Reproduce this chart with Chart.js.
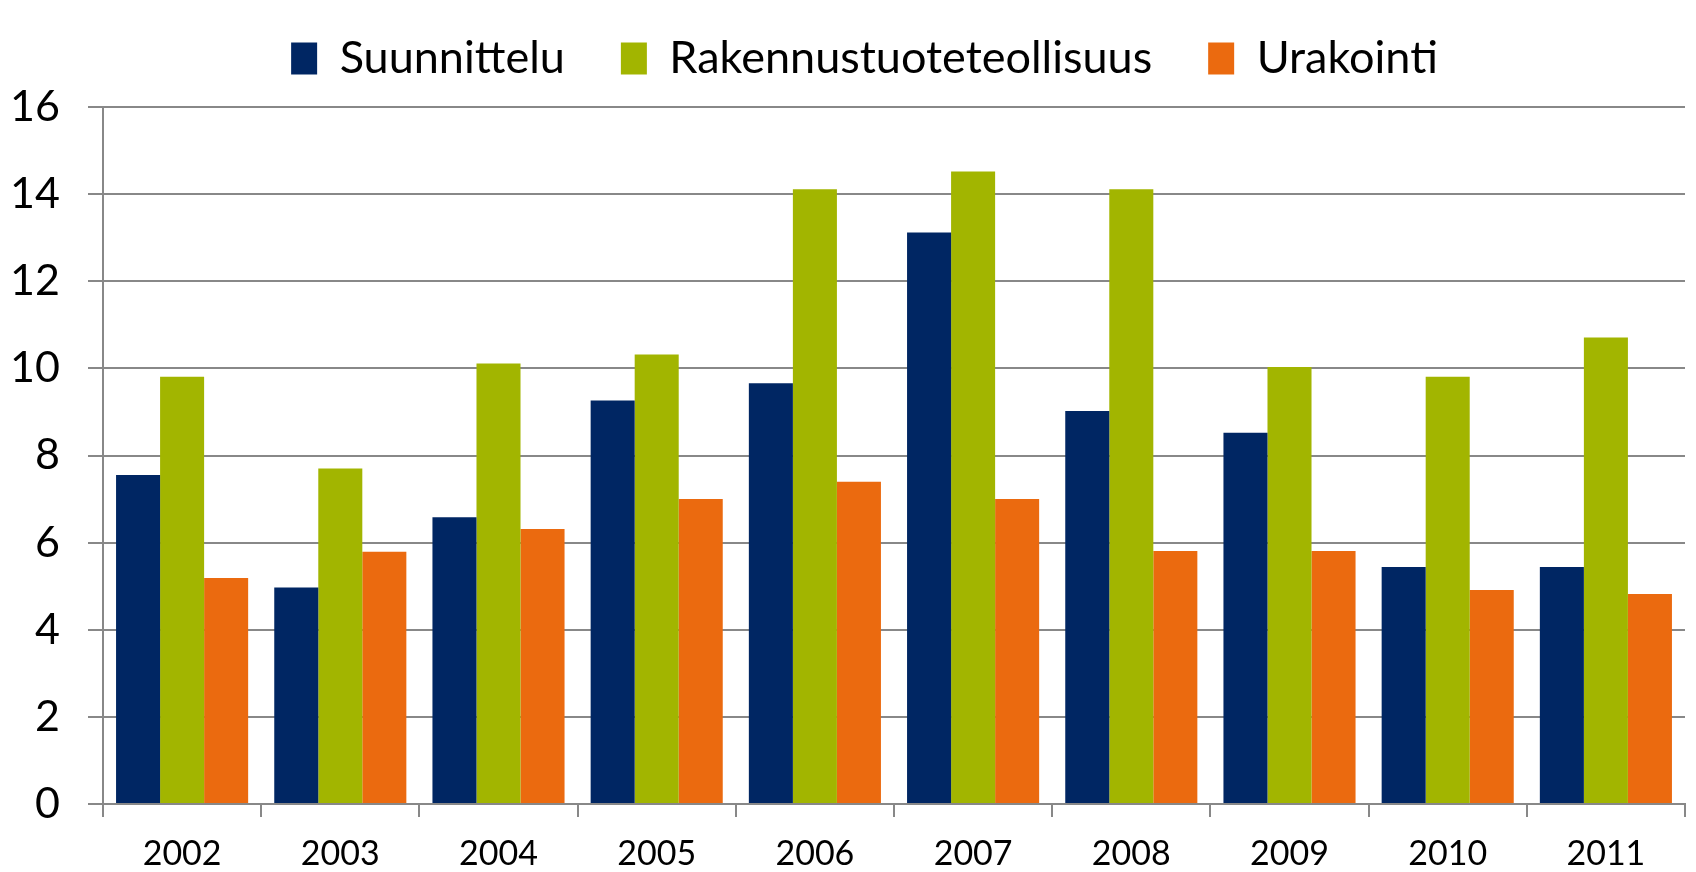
<!DOCTYPE html>
<html>
<head>
<meta charset="utf-8">
<script src="https://cdn.jsdelivr.net/npm/chart.js@4"></script>
<style>
html,body{margin:0;padding:0;background:#fff;}
#wrap{width:1696px;height:872px;position:relative;}
</style>
</head>
<body>
<div id="wrap"><canvas id="c" width="1696" height="872"></canvas></div>
<script>
const categories = ['2002','2003','2004','2005','2006','2007','2008','2009','2010','2011'];
const suunnittelu = [7.55, 4.97, 6.58, 9.26, 9.66, 13.12, 9.02, 8.52, 5.44, 5.44];
const rakennustuoteteollisuus = [9.81, 7.70, 10.11, 10.32, 14.11, 14.52, 14.11, 10.03, 9.81, 10.71];
const urakointi = [5.19, 5.79, 6.31, 7.0, 7.40, 7.0, 5.81, 5.81, 4.91, 4.82];
const seriesNames = ['Suunnittelu', 'Rakennustuoteteollisuus', 'Urakointi'];
const yTicks = [0, 2, 4, 6, 8, 10, 12, 14, 16];

const colors = ['#002663', '#A2B500', '#EB6A0F'];
const FONT = 'Lato, "Open Sans", sans-serif';

const legendHeightPlugin = {
  id: 'legendHeight',
  beforeInit(chart) {
    const lg = chart.legend;
    const origFit = lg.fit;
    lg.fit = function () {
      origFit.call(this);
      this.height = 107;
    };
    const origDraw = lg.draw;
    lg.draw = function () {
      const ctx = this.ctx;
      ctx.save();
      ctx.translate(22, -20);
      origDraw.apply(this, arguments);
      ctx.restore();
    };
  }
};

new Chart(document.getElementById('c'), {
  type: 'bar',
  data: {
    labels: categories,
    datasets: [
      { label: seriesNames[0], data: suunnittelu, backgroundColor: colors[0] },
      { label: seriesNames[1], data: rakennustuoteteollisuus, backgroundColor: colors[1] },
      { label: seriesNames[2], data: urakointi, backgroundColor: colors[2] }
    ]
  },
  options: {
    responsive: false,
    animation: false,
    devicePixelRatio: 1,
    layout: { padding: { left: 0, right: 11, top: 0, bottom: 0 } },
    datasets: { bar: { categoryPercentage: 0.835, barPercentage: 1.0 } },
    plugins: {
      tooltip: { enabled: false },
      legend: {
        position: 'top',
        labels: {
          font: { family: FONT, size: 45 },
          color: '#000',
          boxWidth: 26,
          boxHeight: 32,
          padding: 56
        }
      }
    },
    scales: {
      x: {
        grid: { offset: true, drawOnChartArea: false, drawTicks: true, tickLength: 13, color: '#888', lineWidth: 2 },
        border: { color: '#888', width: 2 },
        ticks: { font: { family: FONT, size: 34 }, color: '#000', padding: 17, maxRotation: 0 },
        afterFit(scale) { scale.height = 68; }
      },
      y: {
        min: 0, max: 16,
        afterBuildTicks(scale) { scale.ticks = yTicks.map(v => ({ value: v })); },
        grid: { color: '#888', lineWidth: 2, drawTicks: true, tickLength: 15 },
        border: { color: '#888', width: 2 },
        ticks: { font: { family: FONT, size: 43 }, color: '#000', padding: 28 },
        afterFit(scale) { scale.width = 103; }
      }
    }
  },
  plugins: [legendHeightPlugin]
});
</script>
</body>
</html>
